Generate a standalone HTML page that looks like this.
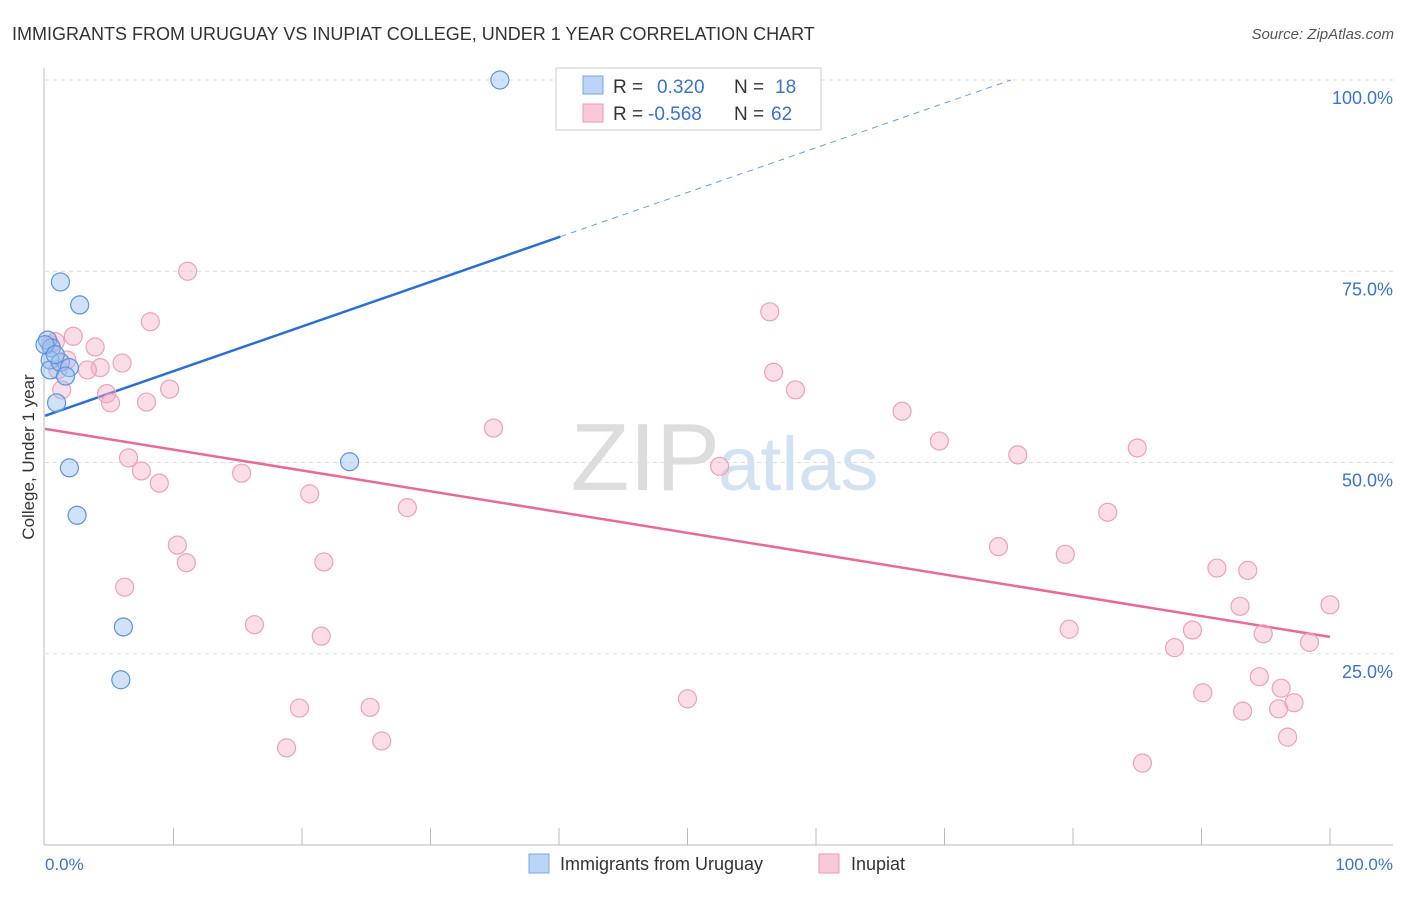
<!DOCTYPE html>
<html><head><meta charset="utf-8"><style>
body{margin:0;background:#fff;font-family:"Liberation Sans",sans-serif;}
svg text{font-family:"Liberation Sans",sans-serif;}
</style></head><body>
<svg id="chart" width="1406" height="892" viewBox="0 0 1406 892">
<text x="12" y="40" font-size="18" fill="#333">IMMIGRANTS FROM URUGUAY VS INUPIAT COLLEGE, UNDER 1 YEAR CORRELATION CHART</text>
<text x="1394" y="39" font-size="15" fill="#555" font-style="italic" text-anchor="end">Source: ZipAtlas.com</text>
<text x="720" y="490" font-size="96" fill="#ddd" text-anchor="end" font-family="Liberation Serif">ZIP</text>
<text x="718" y="490" font-size="76" fill="#d3e2f3">atlas</text>
<g id="grid"></g>
<line x1="44" y1="68" x2="44" y2="845" stroke="#bbb"/>
<line x1="44" y1="845" x2="1393" y2="845" stroke="#bbb"/>
<text transform="translate(34,457) rotate(-90)" font-size="17" fill="#333" text-anchor="middle">College, Under 1 year</text>
<text x="45" y="870" font-size="17" fill="#3a74c8">0.0%</text>
<text x="1393" y="870" font-size="17" fill="#3a74c8" text-anchor="end">100.0%</text>
<g id="trends"></g>
<g id="points"></g>
<g>
<rect x="556" y="68" width="265" height="62" fill="#fff" stroke="#ccc"/>
<rect x="583" y="76" width="20" height="18" fill="#bcd4f5" stroke="#7aa6e6"/>
<rect x="583" y="104" width="20" height="18" fill="#f9c9d8" stroke="#ee9ab5"/>
<text x="613" y="93" font-size="19" fill="#333">R = </text><text x="657" y="93" font-size="19" fill="#3a74c8">0.320</text>
<text x="734" y="93" font-size="19" fill="#333">N = </text><text x="775" y="93" font-size="19" fill="#3a74c8">18</text>
<text x="613" y="120" font-size="19" fill="#333">R = </text><text x="648" y="120" font-size="19" fill="#3a74c8">-0.568</text>
<text x="734" y="120" font-size="19" fill="#333">N = </text><text x="771" y="120" font-size="19" fill="#3a74c8">62</text>
</g>
<g>
<rect x="529" y="854" width="20" height="19" fill="#bcd4f5" stroke="#7aa6e6"/>
<text x="560" y="870" font-size="18" fill="#333">Immigrants from Uruguay</text>
<rect x="819" y="854" width="20" height="19" fill="#f9c9d8" stroke="#ee9ab5"/>
<text x="851" y="870" font-size="18" fill="#333">Inupiat</text>
</g>
</svg>
<script>
const yTicks=[25,50,75,100];
const xTickCount=10;
const blueX=[35.4,1.2,2.7,0.2,0.5,0.4,0.4,1.2,1.9,1.6,0.9,1.9,23.7,2.5,6.1,5.9,0,0.8];
const blueY=[100,73.6,70.6,66.0,65.0,63.4,62.1,63.1,62.4,61.3,57.8,49.3,50.1,43.1,28.5,21.6,65.4,64.1];
const pinkX=[11.1,8.2,2.2,3.9,0.8,1.7,6.0,4.3,3.3,9.7,4.8,5.1,7.9,1.3,6.5,7.5,8.9,15.3,20.6,28.2,10.3,11.0,21.7,6.2,16.3,21.5,19.8,25.3,18.8,26.2,34.9,50.0,52.5,56.4,56.7,58.4,66.7,69.6,75.7,74.2,79.4,82.7,85.0,79.7,87.9,89.3,91.2,93.6,93.0,94.8,90.1,93.2,94.5,96.2,96.0,97.2,96.7,98.4,100,85.4,0.4,1.0];
const pinkY=[75.0,68.4,66.5,65.1,65.8,63.4,63.0,62.4,62.1,59.6,59.0,57.8,57.9,59.5,50.6,48.9,47.3,48.6,45.9,44.1,39.2,36.9,37.0,33.7,28.8,27.3,17.9,18.0,12.7,13.6,54.5,19.1,49.5,69.7,61.8,59.5,56.7,52.8,51.0,39.0,38.0,43.5,51.9,28.2,25.8,28.1,36.2,35.9,31.2,27.6,19.9,17.5,22.0,20.5,17.8,18.6,14.1,26.5,31.4,10.7,65.4,62.1];
const blueTrend=[56.1,114.5];
const pinkTrend=[54.4,27.2];
const NS='http://www.w3.org/2000/svg';
const sx=v=>45+v*12.85, sy=v=>845-v*7.65;
function mk(t,a,p){const e=document.createElementNS(NS,t);for(const k in a)e.setAttribute(k,a[k]);p.appendChild(e);return e;}
const grid=document.getElementById('grid');
yTicks.forEach(t=>{
 const l=mk('line',{x1:45,x2:1393,y1:sy(t),y2:sy(t),stroke:'#ddd','stroke-dasharray':'4,4'},grid);
 
 
 const tx=mk('text',{x:1393,y:sy(t)+24,'font-size':18,fill:'#3a74c8','text-anchor':'end'},grid);
 tx.textContent=t.toFixed(1)+'%';
 
 
});
for(let i=1;i<=xTickCount;i++){
 const l=mk('line',{x1:sx(i*10),x2:sx(i*10),y1:828,y2:845,stroke:'#bbb'},grid);
 
 
}
const tr=document.getElementById('trends');
const bx=(100-blueTrend[0])/(blueTrend[1]-blueTrend[0])*100;
const by=v=>blueTrend[0]+(blueTrend[1]-blueTrend[0])*v/100;
let l1=mk('line',{x1:sx(0),y1:sy(by(0)),x2:sx(40.1),y2:sy(by(40.1)),stroke:'#2a6fd6','stroke-width':2.5},tr);


let l2=mk('line',{x1:sx(40.1),y1:sy(by(40.1)),x2:sx(bx),y2:sy(100),stroke:'#6a9ee0','stroke-width':1,'stroke-dasharray':'6,5'},tr);


let l3=mk('line',{x1:sx(0),y1:sy(pinkTrend[0]),x2:sx(100),y2:sy(pinkTrend[1]),stroke:'#e8699a','stroke-width':2.5},tr);


const pts=document.getElementById('points');
pinkX.forEach((x,i)=>{
 const c=mk('circle',{cx:sx(x),cy:sy(pinkY[i]),r:9,fill:'rgba(246,170,195,0.4)',stroke:'#eea0ba','stroke-width':1.2},pts);
 
 
});
blueX.forEach((x,i)=>{
 const c=mk('circle',{cx:sx(x),cy:sy(blueY[i]),r:9,fill:'rgba(150,190,240,0.45)',stroke:'#5b93dd','stroke-width':1.2},pts);
 
 
});
</script>
</body></html>
